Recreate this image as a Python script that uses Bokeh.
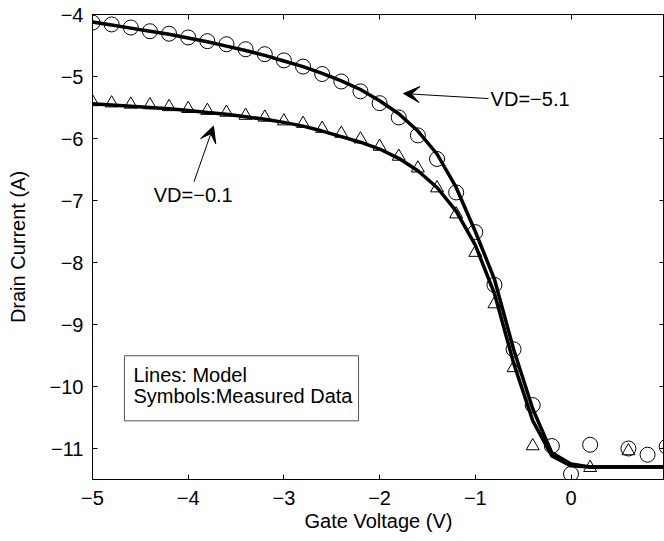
from bokeh.plotting import figure
from bokeh.models import Range1d, LinearAxis, FixedTicker, Arrow, VeeHead, Label, BoxAnnotation
from bokeh.embed import file_html
from bokeh.resources import INLINE

# ---------------- data ----------------
model_x = [-5.0, -4.8, -4.6, -4.4, -4.2, -4.0, -3.8, -3.6, -3.4, -3.2, -3.0,
           -2.8, -2.6, -2.4, -2.2, -2.0, -1.8, -1.6, -1.4, -1.2, -1.0,
           -0.8, -0.6, -0.4, -0.2, 0.0, 0.2, 0.4, 0.6, 0.8, 1.0]
model_vd51 = [-4.12, -4.17, -4.22, -4.27, -4.32, -4.38, -4.44, -4.51, -4.58, -4.66, -4.75,
              -4.84, -4.95, -5.07, -5.21, -5.39, -5.60, -5.88, -6.25, -6.79, -7.50,
              -8.27, -9.40, -10.36, -11.07, -11.25, -11.30, -11.30, -11.30, -11.30, -11.30]
model_vd01 = [-5.44, -5.46, -5.48, -5.50, -5.52, -5.55, -5.58, -5.61, -5.65, -5.69, -5.74,
              -5.80, -5.88, -5.97, -6.06, -6.17, -6.32, -6.52, -6.79, -7.17, -7.72,
              -8.50, -9.62, -10.55, -11.12, -11.28, -11.30, -11.30, -11.30, -11.30, -11.30]

meas51_x = [-5.0, -4.8, -4.6, -4.4, -4.2, -4.0, -3.8, -3.6, -3.4, -3.2, -3.0,
            -2.8, -2.6, -2.4, -2.2, -2.0, -1.8, -1.6, -1.4, -1.2, -1.0,
            -0.8, -0.6, -0.4, -0.2, 0.0, 0.2, 0.6, 0.8, 1.0]
meas51_y = [-4.13, -4.16, -4.21, -4.27, -4.31, -4.37, -4.43, -4.48, -4.56, -4.64, -4.74,
            -4.84, -4.96, -5.08, -5.24, -5.43, -5.66, -5.95, -6.33, -6.87, -7.51,
            -8.36, -9.40, -10.30, -10.96, -11.41, -10.94, -11.00, -11.10, -10.97]

meas01_x = [-5.0, -4.8, -4.6, -4.4, -4.2, -4.0, -3.8, -3.6, -3.4, -3.2, -3.0,
            -2.8, -2.6, -2.4, -2.2, -2.0, -1.8, -1.6, -1.4, -1.2, -1.0,
            -0.8, -0.6, -0.4, 0.2, 0.6]
meas01_y = [-5.41, -5.43, -5.45, -5.46, -5.49, -5.52, -5.55, -5.58, -5.63, -5.66, -5.72,
            -5.76, -5.84, -5.92, -6.01, -6.13, -6.29, -6.48, -6.80, -7.22, -7.84,
            -8.67, -9.70, -10.96, -11.31, -11.04]

x_ticks = [-5, -4, -3, -2, -1, 0]
x_tick_labels = ["\u22125", "\u22124", "\u22123", "\u22122", "\u22121", "0"]
y_ticks = [-4, -5, -6, -7, -8, -9, -10, -11]
y_tick_labels = ["\u22124", "\u22125", "\u22126", "\u22127", "\u22128", "\u22129", "\u221210", "\u221211"]

FONT = "Liberation Sans"

p = figure(width=664, height=541, x_range=Range1d(-5, 0.977), y_range=Range1d(-11.5, -4),
           output_backend="svg", toolbar_location=None,
           min_border_left=92, min_border_right=0, min_border_top=14, min_border_bottom=62)
p.xgrid.visible = False
p.ygrid.visible = False
p.outline_line_color = "black"
p.outline_line_width = 1
p.background_fill_color = "white"
p.border_fill_color = "white"

def style_axis(ax, ticks, labels, show_labels=True):
    ax.ticker = FixedTicker(ticks=ticks)
    ax.major_label_overrides = {t: l for t, l in zip(ticks, labels)}
    ax.axis_line_color = "black"
    ax.major_tick_line_color = "black"
    ax.minor_tick_line_color = None
    ax.major_tick_in = 5
    ax.major_tick_out = 0
    ax.major_label_text_font = FONT
    ax.major_label_text_color = "black"
    if show_labels:
        ax.major_label_text_font_size = "20px"
    else:
        ax.major_label_text_font_size = "0px"
        ax.major_label_standoff = 0

style_axis(p.xaxis[0], x_ticks, x_tick_labels)
style_axis(p.yaxis[0], y_ticks, y_tick_labels)
p.xaxis[0].major_label_standoff = 11
p.yaxis[0].major_label_standoff = 9

p.xaxis.axis_label = "Gate Voltage (V)"
p.yaxis.axis_label = "Drain Current (A)"
for ax in (p.xaxis[0], p.yaxis[0]):
    ax.axis_label_text_font = FONT
    ax.axis_label_text_font_size = "20px"
    ax.axis_label_text_font_style = "normal"
    ax.axis_label_text_color = "black"
p.xaxis[0].axis_label_standoff = 2
p.yaxis[0].axis_label_standoff = 18

top_ax = LinearAxis()
style_axis(top_ax, x_ticks, ["" for _ in x_ticks], show_labels=False)
top_ax.axis_line_color = None
p.add_layout(top_ax, "above")
right_ax = LinearAxis()
style_axis(right_ax, y_ticks, ["" for _ in y_ticks], show_labels=False)
right_ax.axis_line_color = None
p.add_layout(right_ax, "right")

# model lines
p.line(model_x, model_vd51, line_color="black", line_width=3.5)
p.line(model_x, model_vd01, line_color="black", line_width=3.5)

# measured symbols
p.scatter(meas51_x, meas51_y, marker="circle", size=15, fill_color=None,
          line_color="black", line_width=1)
p.scatter(meas01_x, meas01_y, marker="triangle", size=13, fill_color=None,
          line_color="black", line_width=1)

# annotations
p.add_layout(Arrow(end=VeeHead(size=16, fill_color="black", line_color="black", line_width=1),
                   x_start=-0.862, y_start=-5.356, x_end=-1.75, y_end=-5.275,
                   line_color="black", line_width=1))
p.add_layout(Label(x=-0.84, y=-5.356, text="VD=\u22125.1", text_font=FONT,
                   text_font_size="20px", text_baseline="middle", text_align="left",
                   text_color="black"))
p.add_layout(Arrow(end=VeeHead(size=16, fill_color="black", line_color="black", line_width=1),
                   x_start=-3.939, y_start=-6.696, x_end=-3.736, y_end=-5.80,
                   line_color="black", line_width=1))
p.add_layout(Label(x=-4.36, y=-6.906, text="VD=\u22120.1", text_font=FONT,
                   text_font_size="20px", text_baseline="middle", text_align="left",
                   text_color="black"))

p.add_layout(BoxAnnotation(left=-4.666, right=-2.22, top=-9.504, bottom=-10.554,
                           fill_color="white", fill_alpha=1.0, line_color="#555555",
                           line_width=1, line_alpha=1.0, level="overlay"))
p.add_layout(Label(x=-4.572, y=-9.811, text="Lines: Model", text_font=FONT,
                   text_font_size="20px", text_baseline="middle", text_align="left",
                   text_color="black", level="overlay"))
p.add_layout(Label(x=-4.572, y=-10.158, text="Symbols:Measured Data", text_font=FONT,
                   text_font_size="20px", text_baseline="middle", text_align="left",
                   text_color="black", level="overlay"))

open("out.html", "w").write(file_html(p, INLINE))
